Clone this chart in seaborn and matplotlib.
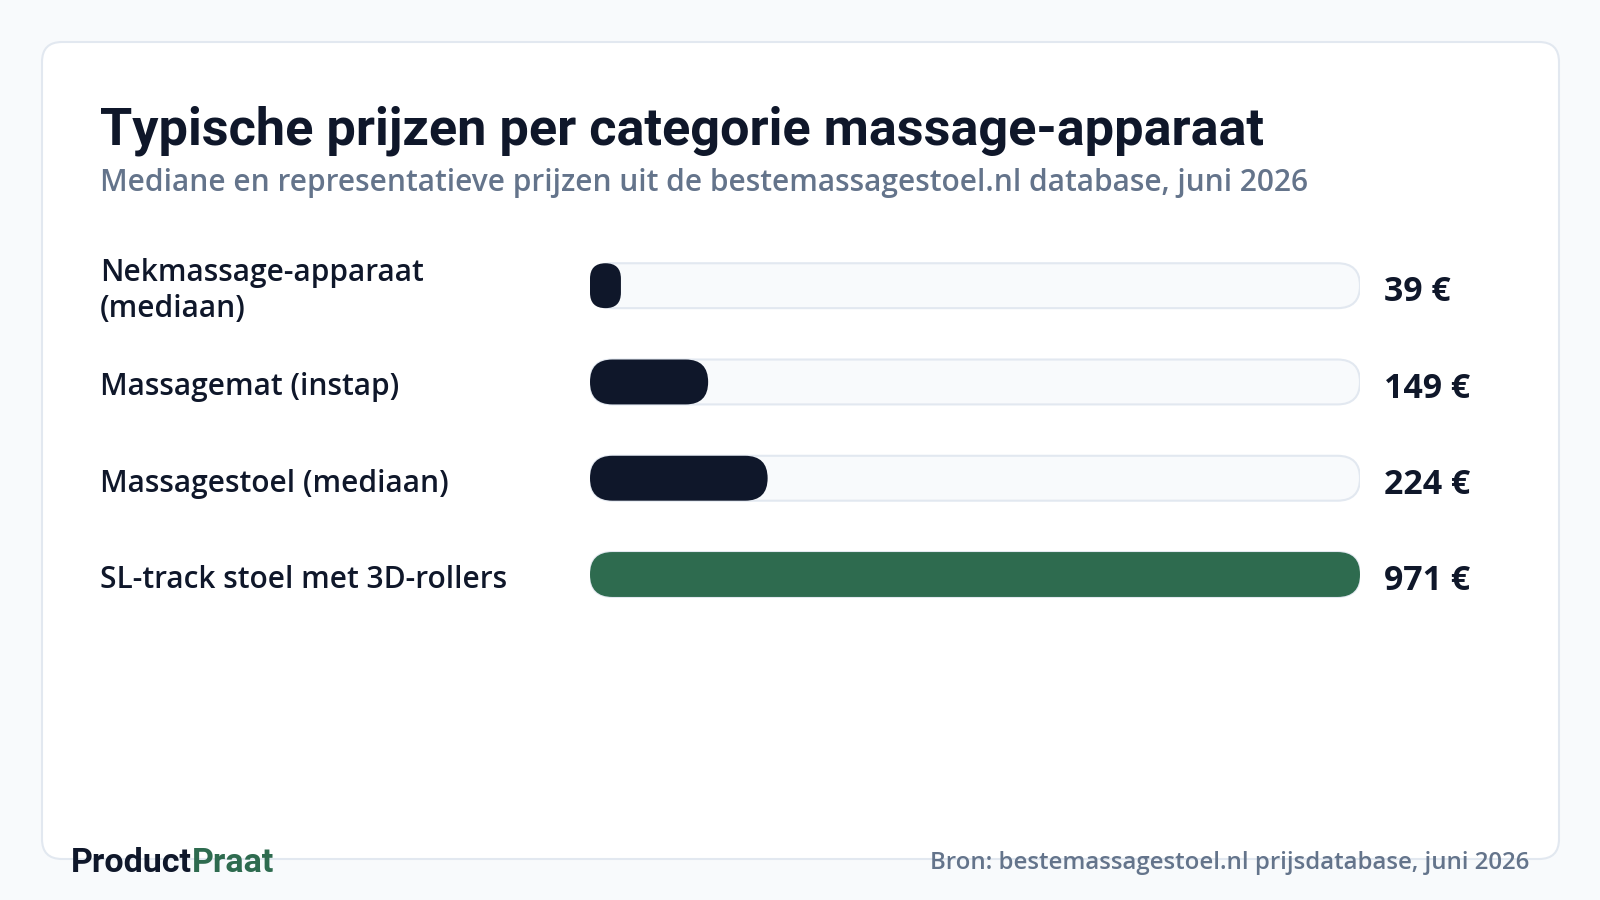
import matplotlib
matplotlib.use("Agg")
import matplotlib.pyplot as plt
import matplotlib.transforms as mtransforms
from matplotlib.patches import FancyBboxPatch
import seaborn as sns
import pandas as pd

# ---- data ----
categories = ["Nekmassage-apparaat\n(mediaan)", "Massagemat (instap)",
              "Massagestoel (mediaan)", "SL-track stoel met 3D-rollers"]
prices = [39, 149, 224, 971]
value_labels = ["39 €", "149 €", "224 €", "971 €"]
bar_colors = ["#0f172a", "#0f172a", "#0f172a", "#2e6b4f"]

title = "Typische prijzen per categorie massage-apparaat"
subtitle = "Mediane en representatieve prijzen uit de bestemassagestoel.nl database, juni 2026"
source = "Bron: bestemassagestoel.nl prijsdatabase, juni 2026"

sns.set_theme(style="white")
plt.rcParams["font.family"] = ["Open Sans", "DejaVu Sans"]

W, H = 1600, 900
fig = plt.figure(figsize=(16, 9), dpi=100, facecolor="#f8fafc")

# background / pixel axes
bg = fig.add_axes([0, 0, 1, 1])
bg.set_xlim(0, W)
bg.set_ylim(H, 0)
bg.axis("off")

card = FancyBboxPatch((42, 42), 1559 - 42, 859 - 42,
                      boxstyle="round,pad=0,rounding_size=20",
                      facecolor="white", edgecolor="#e2e8f0", linewidth=1.5, zorder=1)
bg.add_patch(card)

bg.text(100, 145, title, fontsize=37.6, fontweight="bold", family=["Roboto", "DejaVu Sans"],
        color="#0f172a", va="baseline", ha="left", zorder=3)
bg.text(100, 191, subtitle, fontsize=21.5, fontweight="semibold",
        color="#64748b", va="baseline", ha="left", zorder=3)

logo = bg.text(71, 872, "Product", fontsize=24.5, fontweight="bold", family=["Roboto", "DejaVu Sans"],
               color="#0f172a", va="baseline", ha="left", zorder=3)
bg.annotate("Praat", xy=(1, 0), xycoords=logo, fontsize=24.5, fontweight="bold",
            family=["Roboto", "DejaVu Sans"], color="#2e6b4f", va="bottom", ha="left", zorder=3)
bg.text(1529, 869, source, fontsize=17.25, fontweight="semibold",
        color="#64748b", va="baseline", ha="right", zorder=3)

# bar axes
x0_px, x1_px = 590, 1360
c0, c3 = 285.7, 574.5
step = (c3 - c0) / 3
top_px = c0 - step / 2
bot_px = c3 + step / 2
ax = fig.add_axes([x0_px / W, 1 - bot_px / H, (x1_px - x0_px) / W, (bot_px - top_px) / H])
ax.patch.set_alpha(0)

df = pd.DataFrame({"category": categories, "price": prices})
bar_h = 44.9 / step
sns.barplot(data=df, x="price", y="category", hue="category", palette=bar_colors,
            orient="h", width=bar_h, legend=False, ax=ax, saturation=1)
ax.set_xlim(0, max(prices))
ax.set_ylim(3.5, -0.5)
ax.axis("off")

px_x = (x1_px - x0_px) / max(prices)   # pixels per x unit
px_y = step                            # pixels per y unit
m_aspect = px_x / px_y


def rounded(x, y, w, h, **kw):
    wpx, hpx = w * px_x, h * px_y
    R = min(wpx / 2, hpx / 2)
    return FancyBboxPatch((x, y), w, h, boxstyle=f"round,pad=0,rounding_size={R / px_x}",
                          mutation_aspect=m_aspect, **kw)


bars = list(ax.patches)
for p in bars:
    p.remove()

# tracks
for i in range(len(categories)):
    ax.add_patch(rounded(0, i - bar_h / 2, max(prices), bar_h,
                         facecolor="#f8fafc", edgecolor="#e2e8f0", linewidth=1.5, zorder=1))

for p in bars:
    x, y, w, h = p.get_x(), p.get_y(), p.get_width(), p.get_height()
    ax.add_patch(rounded(x, y, w, h, facecolor=p.get_facecolor(), edgecolor="none",
                         linewidth=0, zorder=2))

trans = mtransforms.blended_transform_factory(bg.transData, ax.transData)
for i, (lab, val) in enumerate(zip(categories, value_labels)):
    ax.text(100, i + 0.055, lab, transform=trans, fontsize=21.5, fontweight="semibold",
            color="#0f172a", va="center", ha="left", linespacing=1.3, clip_on=False)
    ax.text(1384, i + 0.07, val, transform=trans, fontsize=24.4, fontweight="bold",
            color="#0f172a", va="center", ha="left", clip_on=False)

fig.savefig("out.png", dpi=100, facecolor=fig.get_facecolor())
